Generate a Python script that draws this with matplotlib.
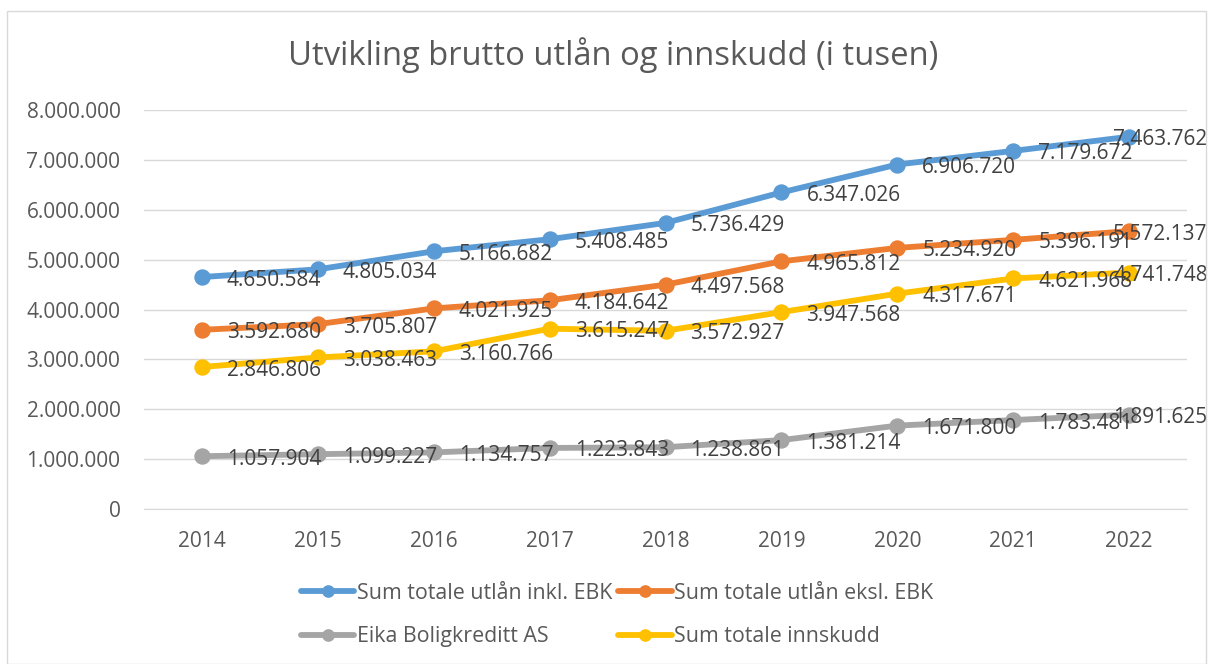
import matplotlib.pyplot as plt
from matplotlib.patches import Rectangle

plt.rcParams['font.family'] = ['Open Sans', 'DejaVu Sans']

years = ['2014', '2015', '2016', '2017', '2018', '2019', '2020', '2021', '2022']
utlan_inkl = [4650584, 4805034, 5166682, 5408485, 5736429, 6347026, 6906720, 7179672, 7463762]
utlan_eksl = [3592680, 3705807, 4021925, 4184642, 4497568, 4965812, 5234920, 5396191, 5572137]
eika = [1057904, 1099227, 1134757, 1223843, 1238861, 1381214, 1671800, 1783481, 1891625]
innskudd = [2846806, 3038463, 3160766, 3615247, 3572927, 3947568, 4317671, 4621968, 4741748]

series = [
    ('Sum totale utlån inkl. EBK', utlan_inkl, '#5B9BD5'),
    ('Sum totale utlån eksl. EBK', utlan_eksl, '#ED7D31'),
    ('Eika Boligkreditt AS', eika, '#A5A5A5'),
    ('Sum totale innskudd', innskudd, '#FFC000'),
]

txt = '#595959'


def fmt(v):
    return f'{v:,}'.replace(',', '.')


fig = plt.figure(figsize=(12.13, 6.64), dpi=100)
fig.patches.append(Rectangle((7 / 1213, 0), 1199 / 1213, 1 - 11 / 664,
                             transform=fig.transFigure, fill=False,
                             edgecolor='#D9D9D9', lw=1))
ax = fig.add_axes([144 / 1213, 1 - 509 / 664, (1187 - 144) / 1213, 399 / 664])

x = list(range(len(years)))
handles = {}
for name, vals, col in series:
    h, = ax.plot(x, vals, color=col, lw=4.2, marker='o', markersize=10.8,
                 solid_capstyle='round', label=name)
    handles[name] = h

for name, vals, col in series:
    for i, v in enumerate(vals):
        # the last label is pushed left to stay inside the chart
        dx = -16 if i == len(vals) - 1 else 25
        ax.annotate(fmt(v), (i, v), xytext=(dx, -3), textcoords='offset pixels',
                    ha='left', va='center', fontsize=15, color='#404040',
                    annotation_clip=False)

ax.set_xlim(-0.5, len(years) - 0.5)
ax.set_ylim(0, 8000000)
ax.set_yticks(range(0, 8000001, 1000000))
ax.set_yticklabels([fmt(v) for v in range(0, 8000001, 1000000)])
ax.set_xticks(x)
ax.set_xticklabels(years)
ax.tick_params(axis='both', length=0, labelsize=15, labelcolor=txt)
ax.tick_params(axis='y', pad=17)
ax.tick_params(axis='x', pad=16)
ax.grid(axis='y', color='#D9D9D9', lw=1)
ax.set_axisbelow(True)
for s in ['left', 'right', 'top']:
    ax.spines[s].set_visible(False)
ax.spines['bottom'].set_color('#D9D9D9')

fig.text(613 / 1213, 1 - 55 / 664, 'Utvikling brutto utlån og innskudd (i tusen)',
         ha='center', va='center', fontsize=23.6, color=txt)

order = ['Sum totale utlån inkl. EBK', 'Eika Boligkreditt AS',
         'Sum totale utlån eksl. EBK', 'Sum totale innskudd']
leg = fig.legend([handles[n] for n in order], order, ncol=2, loc='center',
                 bbox_to_anchor=(617 / 1213, 1 - 615 / 664), frameon=False,
                 fontsize=15.4, handlelength=2.5, handletextpad=0.1,
                 columnspacing=0.3, labelspacing=1.05, markerscale=0.75)
for t in leg.get_texts():
    t.set_color(txt)

fig.savefig('out.png', dpi=100)
